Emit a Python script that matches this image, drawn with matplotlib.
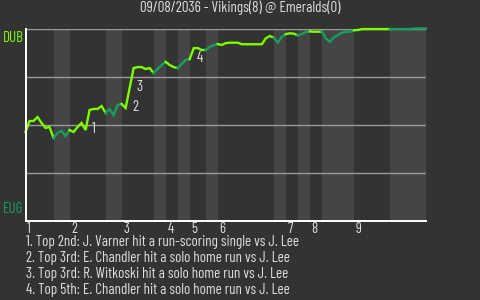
import matplotlib
matplotlib.use("Agg")
import matplotlib.pyplot as plt
from matplotlib import font_manager

# ---------------- data ----------------
title = "09/08/2036 - Vikings(8) @ Emeralds(0)"
team_top = "DUB"
team_bottom = "EUG"

# win probability for DUB after each event (index 0..100)
win_prob = [
    0.461, 0.518, 0.518, 0.539, 0.508, 0.482, 0.487, 0.430, 0.456, 0.466,
    0.440, 0.471, 0.461, 0.487, 0.508, 0.471, 0.576, 0.581, 0.581, 0.596,
    0.560, 0.581, 0.549, 0.602, 0.607, 0.586, 0.690, 0.794, 0.799, 0.799,
    0.789, 0.794, 0.768, 0.789, 0.810, 0.826, 0.810, 0.799, 0.794, 0.815,
    0.836, 0.841, 0.898, 0.898, 0.888, 0.888, 0.904, 0.914, 0.919, 0.914,
    0.924, 0.926, 0.926, 0.926, 0.918, 0.918, 0.918, 0.918, 0.918, 0.918,
    0.949, 0.961, 0.952, 0.926, 0.957, 0.971, 0.975, 0.973, 0.965, 0.971,
    0.982, 0.985, 0.983, 0.983, 0.983, 0.949, 0.930, 0.954, 0.966, 0.978,
    0.983, 0.983, 0.991, 0.992, 0.997, 0.997, 0.997, 0.997, 0.997, 0.997,
    0.997, 0.997, 0.997, 0.997, 0.997, 0.997, 0.997, 1.000, 1.000, 1.000,
    1.000,
]

# half-inning boundaries (event index where each half inning starts), last = end
half_starts = [0, 7, 11, 20, 24, 32, 35, 38, 41, 45, 48, 62, 65, 68, 71, 74, 82, 91, 100]
inning_labels = ["1", "2", "3", "4", "5", "6", "7", "8", "9"]

event_idx = [16, 26, 27, 42]
event_text = [
    "1. Top 2nd: J. Varner hit a run-scoring single vs J. Lee",
    "2. Top 3rd: E. Chandler hit a solo home run vs J. Lee",
    "3. Top 3rd: R. Witkoski hit a solo home run vs J. Lee",
    "4. Top 5th: E. Chandler hit a solo home run vs J. Lee",
]

# ---------------- style ----------------
names = {f.name for f in font_manager.fontManager.ttflist}
fam = "Barlow Condensed" if "Barlow Condensed" in names else "DejaVu Sans"
plt.rcParams["font.family"] = [fam, "DejaVu Sans"]

BG = "#333333"
BAND = "#454545"
BRIGHT = "#7cfc00"
DARK = "#13a05c"
TXT = "#dddddd"

W, H = 480, 300
fig = plt.figure(figsize=(W / 100, H / 100), dpi=100, facecolor=BG)
ax = fig.add_axes([25.5 / W, 1 - 220.5 / H, (426 - 25.5) / W, 192 / H])
ax.set_facecolor(BG)
ax.set_xlim(0, 100)
ax.set_ylim(0, 1)

# bands for bottom halves
for k in range(len(half_starts) - 1):
    s, e = half_starts[k], half_starts[k + 1]
    if k % 2 == 1:
        ax.axvspan(s, e, color=BAND, lw=0, zorder=0)

for gy in [0.25, 0.5, 0.75, 1.0]:
    ax.axhline(gy, color="#9a9a9a", lw=1, zorder=1)

x = list(range(len(win_prob)))
for k in range(len(half_starts) - 1):
    s, e = half_starts[k], half_starts[k + 1]
    col = BRIGHT if k % 2 == 0 else DARK
    ax.plot(x[s:e + 1], win_prob[s:e + 1], color=col, lw=1.7, zorder=3,
            solid_joinstyle="miter", clip_on=False)

for n, i in enumerate(event_idx):
    ax.annotate(str(n + 1), (x[i], win_prob[i - 1]), xytext=(2, 0.5),
                textcoords="offset points", color=TXT, fontsize=10.8,
                ha="left", va="center", zorder=4)

for sp in ["top", "right"]:
    ax.spines[sp].set_visible(False)
for sp in ["left", "bottom"]:
    ax.spines[sp].set_color("white")
    ax.spines[sp].set_linewidth(1.4)
    ax.spines[sp].set_zorder(5)
ax.set_xticks([])
ax.set_yticks([])

# inning labels
for lab, k in zip(inning_labels, range(0, 18, 2)):
    ax.annotate(lab, (half_starts[k], 0), xytext=(1.2, -1.0), textcoords="offset points",
                color=TXT, fontsize=10.5, ha="left", va="top", annotation_clip=False)

ax.annotate(team_top, (0, 1), xytext=(-16.5, -1.5), textcoords="offset points",
            color=BRIGHT, fontsize=10.8, ha="left", va="top", annotation_clip=False)
ax.annotate(team_bottom, (0, 0), xytext=(-16.5, 3), textcoords="offset points",
            color=DARK, fontsize=10.8, ha="left", va="bottom", annotation_clip=False)

fig.text(0.5, 1 - 8 / H, title, color=TXT, fontsize=10.9, ha="center", va="center")

for n, t in enumerate(event_text):
    fig.text(26 / W, 1 - (241.8 + 16 * n) / H, t, color=TXT, fontsize=10.8,
             ha="left", va="center")

fig.savefig("out.png", dpi=100, facecolor=BG)
